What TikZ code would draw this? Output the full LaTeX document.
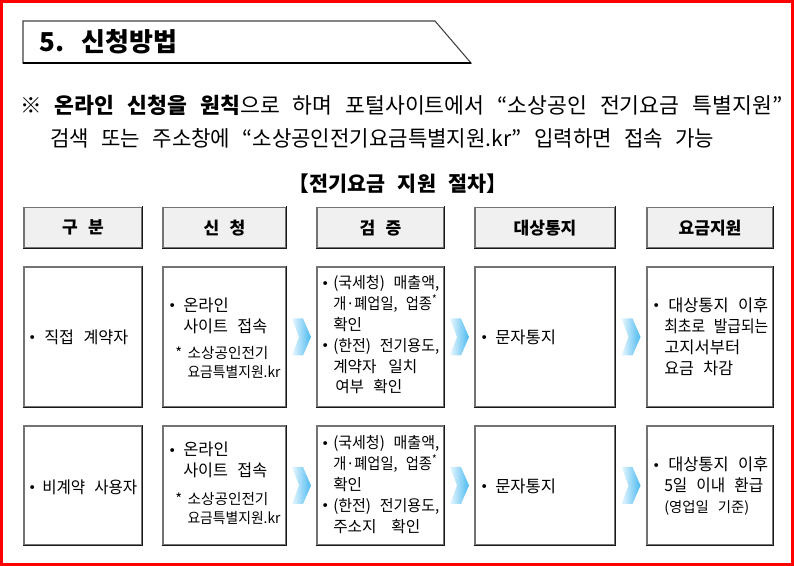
\documentclass[tikz,border=0pt]{standalone}
\usepackage{graphicx}
\usepackage{fontspec}
\setmainfont[WordSpace=2.6]{Noto Sans CJK KR}
\newfontfamily\symf{DejaVu Sans}
\usetikzlibrary{calc}
\definecolor{chevL}{RGB}{232,247,254}
\definecolor{chevR}{RGB}{75,185,240}
\definecolor{hdrfill}{RGB}{240,240,240}
\newlength\tmpw
\newcommand\bul[1]{\makebox[#1][l]{\raisebox{0.3pt}{\symf\fontsize{10}{10}\selectfont •}}}
\newcommand\sw[2]{\settowidth\tmpw{#2}\ifdim\tmpw>#1\relax\resizebox{#1}{\height}{#2}\else\makebox[#1][s]{#2}\fi}
\newcommand\mychev[1]{\path[left color=chevL, right color=chevR]
  ($(#1)+(-9.5,-18.5)$) -- ++(11,0) -- ++(8,18.5) -- ++(-8,18.5) -- ++(-11,0) -- ++(7,-18.5) -- cycle;}
\newcommand\dk[1]{\draw[black!90, line width=1.1pt, line cap=rect] (#1.north east) -- (#1.south east) -- (#1.south west);}
\begin{document}
\begin{tikzpicture}[x=0.75pt,y=-0.75pt,
  boxs/.style={draw=black!55, line width=1.1pt, inner sep=0pt, fill=white},
  hdr/.style={boxs, fill=hdrfill, minimum height=30.4pt,
    font=\bfseries\fontsize{12.8}{15}\selectfont},
  txt/.style={anchor=west, align=left, inner sep=0pt,
    font=\fontsize{12.4}{15.75}\selectfont},
  txtc/.style={anchor=west, align=left, inner sep=0pt,
    font=\fontsize{11.8}{15.6}\selectfont},
  note/.style={anchor=west, align=left, inner sep=0pt,
    font=\fontsize{11}{14.25}\selectfont}]
\useasboundingbox (0,0) rectangle (794,566);
% red frame
\draw[red, line width=2.6pt] (1.75,1.75) rectangle (792.25,564.25);
% title box
\draw[black!75, line width=0.8pt] (23,21) -- (435,21) -- (471,63) -- (23,63) -- cycle;
\draw[black, line width=1.5pt] (23,63) -- (471,63);
\node[anchor=base west, inner sep=0pt, font=\bfseries\fontsize{19.5}{22}\selectfont] (title) at (39,52) {5. 신청방법};
% intro text
\node[anchor=base west, inner sep=0pt, font=\fontsize{16.2}{18}\selectfont] (intro1) at (20,114)
  {\sw{571.5pt}{※ \textbf{온라인 신청을 원칙}으로 하며 포털사이트에서 “소상공인 전기요금 특별지원”}};
\node[anchor=base west, inner sep=0pt, font=\fontsize{16.2}{18}\selectfont] (intro2) at (50,147)
  {\sw{498pt}{검색 또는 주소창에 “소상공인전기요금특별지원.kr” 입력하면 접속 가능}};
\node[inner sep=0pt, font=\bfseries\fontsize{15.5}{18}\selectfont] (caption) at (398,183.5) {【전기요금 지원 절차】};
% headers
\node[hdr, minimum width=88.5pt] (h1) at (83,227.75) {구 분};
\node[hdr, minimum width=92.25pt] (h2) at (224.5,227.75) {신 청};
\node[hdr, minimum width=95.25pt] (h3) at (380.5,227.75) {검 증};
\node[hdr, minimum width=105pt] (h4) at (545,227.75) {대상통지};
\node[hdr, minimum width=94.5pt] (h5) at (710,227.75) {요금지원};
% row 1 boxes
\node[boxs, minimum width=88.5pt, minimum height=105pt] (r1c1) at (83,337) {};
\node[boxs, minimum width=92.25pt, minimum height=105pt] (r1c2) at (224.5,337) {};
\node[boxs, minimum width=95.25pt, minimum height=105pt] (r1c3) at (380.5,337) {};
\node[boxs, minimum width=105pt, minimum height=105pt] (r1c4) at (545,337) {};
\node[boxs, minimum width=94.5pt, minimum height=105pt] (r1c5) at (710,337) {};
% row 2 boxes
\node[boxs, minimum width=88.5pt, minimum height=89.25pt] (r2c1) at (83,485.5) {};
\node[boxs, minimum width=92.25pt, minimum height=89.25pt] (r2c2) at (224.5,485.5) {};
\node[boxs, minimum width=95.25pt, minimum height=89.25pt] (r2c3) at (380.5,485.5) {};
\node[boxs, minimum width=105pt, minimum height=89.25pt] (r2c4) at (545,485.5) {};
\node[boxs, minimum width=94.5pt, minimum height=89.25pt] (r2c5) at (710,485.5) {};
\foreach \n in {h1,h2,h3,h4,h5,r1c1,r1c2,r1c3,r1c4,r1c5,r2c1,r2c2,r2c3,r2c4,r2c5} {\dk{\n}}
% row 1 texts
\node[txt] (t11) at (28,337) {\bul{12pt}\sw{63pt}{직접 계약자}};
\node[txt] (t12) at (168,315.5) {\bul{11.25pt}온라인\\\hspace*{11.25pt}\sw{63pt}{사이트 접속}};
\node[note] (n12) at (175,362.5) {\makebox[9.2pt][l]{*}\sw{63pt}{소상공인전기}\\\hspace*{9.2pt}\sw{69.75pt}{요금특별지원.kr}};
\node[txtc] (t13) at (321,335) {\bul{9pt}\sw{79.5pt}{(국세청) 매출액,}\\\hspace*{9pt}\sw{78pt}{개·폐업일, 업종\textsuperscript{*}}\\\hspace*{9pt}확인\\\bul{9pt}\sw{79.5pt}{(한전) 전기용도,}\\\hspace*{9pt}\sw{63pt}{계약자 일치}\\\hspace*{10.5pt}\sw{50.25pt}{여부 확인}};
\node[txt] (t14) at (480,337) {\bul{11.25pt}문자통지};
\node[txt] (t15) at (652,336.5) {\bul{12pt}\sw{75pt}{대상통지 이후}\\\hspace*{9pt}\sw{78pt}{최초로 발급되는}\\\hspace*{9pt}고지서부터\\\hspace*{9pt}\sw{51.75pt}{요금 차감}};
% row 2 texts
\node[txt] (t21) at (28,487) {\bul{10.5pt}\sw{71.25pt}{비계약 사용자}};
\node[txt] (t22) at (168,460) {\bul{11.25pt}온라인\\\hspace*{11.25pt}\sw{63pt}{사이트 접속}};
\node[note] (n22) at (175,508.5) {\makebox[9.2pt][l]{*}\sw{63pt}{소상공인전기}\\\hspace*{9.2pt}\sw{69.75pt}{요금특별지원.kr}};
\node[txtc] (t23) at (321,484.5) {\bul{9pt}\sw{79.5pt}{(국세청) 매출액,}\\\hspace*{9pt}\sw{78pt}{개·폐업일, 업종\textsuperscript{*}}\\\hspace*{9pt}확인\\\bul{9pt}\sw{79.5pt}{(한전) 전기용도,}\\\hspace*{9pt}\sw{65.25pt}{주소지 확인}};
\node[txt] (t24) at (480,486) {\bul{11.25pt}문자통지};
\node[txt] (t25) at (652,486.5) {\bul{12pt}\sw{75pt}{대상통지 이후}\\\hspace*{9pt}\sw{74.25pt}{5일 이내 환급}\\\hspace*{9pt}{\fontsize{10.8}{12}\selectfont\sw{63.75pt}{(영업일 기준)}}};
% chevron arrows
\coordinate (a12) at ($(r1c2.east)!0.5!(r1c3.west)$);
\coordinate (a13) at ($(r1c3.east)!0.5!(r1c4.west)$);
\coordinate (a14) at ($(r1c4.east)!0.5!(r1c5.west)$);
\coordinate (a22) at ($(r2c2.east)!0.5!(r2c3.west)$);
\coordinate (a23) at ($(r2c3.east)!0.5!(r2c4.west)$);
\coordinate (a24) at ($(r2c4.east)!0.5!(r2c5.west)$);
\mychev{a12}\mychev{a13}\mychev{a14}
\mychev{a22}\mychev{a23}\mychev{a24}
\end{tikzpicture}
\end{document}
